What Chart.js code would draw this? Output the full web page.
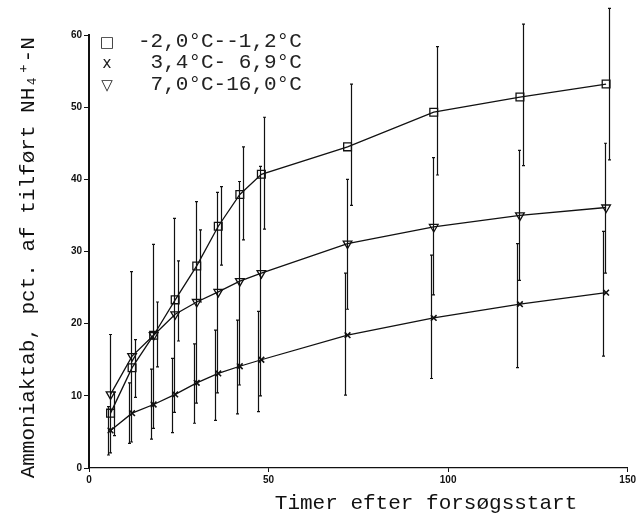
<!DOCTYPE html>
<html><head><meta charset="utf-8">
<script src="https://cdn.jsdelivr.net/npm/chart.js@4.4.0/dist/chart.umd.min.js"></script>
<style>
html,body{margin:0;padding:0;background:#fff;}
#wrap{position:relative;width:638px;height:520px;}
canvas{display:block;}
#legend{position:absolute;left:0;top:0;width:0;height:0;font-family:'Liberation Mono','DejaVu Sans Mono',monospace;font-size:21px;color:#222;}
.row{position:absolute;left:0;height:22px;line-height:22px;white-space:pre;}
.sym{position:absolute;left:97px;width:20px;text-align:center;font-family:'DejaVu Sans',sans-serif;font-size:15px;}
.txt{position:absolute;left:138px;}
</style></head>
<body><div id="wrap"><canvas id="c" width="638" height="520"></canvas><div id="legend"></div></div>
<script>
const hours = [6,12,18,24,30,36,42,48,72,96,120,144];
const seriesNames = ['-2,0°C--1,2°C',' 3,4°C- 6,9°C',' 7,0°C-16,0°C'];
const seriesSymbols = ['□','x','▽'];
const coldMean = [7.6,13.9,18.4,23.3,28.0,33.5,37.9,40.7,44.5,49.3,51.4,53.2];
const coldLow  = [4.5,9.8,14.0,17.6,23.0,28.1,31.6,33.1,36.4,40.6,41.9,42.7];
const coldHigh = [10.5,17.8,23.0,28.7,33.0,39.0,44.5,48.6,53.2,58.4,61.5,63.7];
const midMean  = [5.2,7.6,8.8,10.2,11.8,13.1,14.1,15.0,18.4,20.8,22.7,24.3];
const midLow   = [1.8,3.4,4.0,4.9,6.2,6.6,7.5,7.8,10.1,12.4,13.9,15.5];
const midHigh  = [8.5,11.8,13.7,15.2,17.2,19.1,20.5,21.7,27.0,29.5,31.1,32.8];
const warmMean = [10.2,15.5,18.4,21.3,23.0,24.4,25.9,27.0,31.1,33.4,35.0,36.1];
const warmLow  = [2.1,3.6,5.5,7.7,9.0,10.4,11.5,10.0,22.0,24.0,26.0,27.0];
const warmHigh = [18.5,27.2,31.0,34.6,36.9,38.2,39.7,41.8,40.0,43.0,44.0,45.0];
const xTicks = [0,50,100,150];
const yTicks = [0,10,20,30,40,50,60];

// HTML legend
const leg = document.getElementById('legend');
const rowTops = [31,52,74];
seriesNames.forEach((n,i)=>{
  const r = document.createElement('div');
  r.className='row'; r.style.top = rowTops[i]+'px';
  const s = document.createElement('span'); s.className='sym'; s.textContent = seriesSymbols[i];
  const t = document.createElement('span'); t.className='txt'; t.textContent = n;
  r.appendChild(s); r.appendChild(t); leg.appendChild(r);
});

const errorBars = {
  id:'errorBars',
  afterDatasetsDraw(chart, args, opts){
    const {ctx, scales:{x,y}} = chart;
    ctx.save();
    ctx.strokeStyle='#111';
    ctx.lineWidth=1.2;
    chart.data.datasets.forEach((ds,di)=>{
      const off = opts.offsets[di] || 0;
      ds.data.forEach((p,i)=>{
        const px = Math.round(x.getPixelForValue(p.x)+off)+0.5;
        const yl = y.getPixelForValue(ds.errLow[i]);
        const yh = y.getPixelForValue(ds.errHigh[i]);
        ctx.beginPath();
        ctx.moveTo(px,yl); ctx.lineTo(px,yh);
        ctx.moveTo(px-1.5,yl); ctx.lineTo(px+1.5,yl);
        ctx.moveTo(px-1.5,yh); ctx.lineTo(px+1.5,yh);
        ctx.stroke();
      });
    });
    ctx.restore();
  }
};

const titleFont = {family:"'Liberation Mono','DejaVu Sans Mono',monospace", size:21, weight:'normal'};
const tickFont = {family:"'Liberation Sans',Arial,sans-serif", size:10, weight:'bold'};

new Chart(document.getElementById('c'), {
  type:'line',
  data:{datasets:[
    {label:seriesNames[0], data:hours.map((h,i)=>({x:h,y:coldMean[i]})), errLow:coldLow, errHigh:coldHigh,
     pointStyle:'rect', pointRadius:5.5, pointBorderWidth:1.3, borderColor:'#111', pointBorderColor:'#111',
     backgroundColor:'rgba(0,0,0,0)', pointBackgroundColor:'rgba(0,0,0,0)', borderWidth:1.3, tension:0},
    {label:seriesNames[1], data:hours.map((h,i)=>({x:h,y:midMean[i]})), errLow:midLow, errHigh:midHigh,
     pointStyle:'crossRot', pointRadius:4, pointBorderWidth:1.6, borderColor:'#111', pointBorderColor:'#111',
     backgroundColor:'rgba(0,0,0,0)', borderWidth:1.3, tension:0},
    {label:seriesNames[2], data:hours.map((h,i)=>({x:h,y:warmMean[i]})), errLow:warmLow, errHigh:warmHigh,
     pointStyle:'triangle', pointRotation:180, pointRadius:5, pointBorderWidth:1.3, borderColor:'#111', pointBorderColor:'#111',
     backgroundColor:'rgba(0,0,0,0)', pointBackgroundColor:'rgba(0,0,0,0)', borderWidth:1.3, tension:0}
  ]},
  options:{
    responsive:false, animation:false, devicePixelRatio:1,
    layout:{padding:{top:35,right:0,bottom:0,left:0}},
    plugins:{legend:{display:false}, tooltip:{enabled:false}, errorBars:{offsets:[3,-3,-1]}},
    scales:{
      x:{type:'linear', min:0, max:150,
        afterBuildTicks(s){ s.ticks = xTicks.map(v=>({value:v})); },
        afterFit(s){ s.height = 52; },
        border:{display:true, color:'#111', width:1.2},
        grid:{display:true, drawOnChartArea:false, drawTicks:true, tickLength:4, color:'#111'},
        ticks:{font:tickFont, color:'#111', padding:2, maxRotation:0, autoSkip:false},
        title:{display:true, text:'Timer efter forsøgsstart    ', align:'end', font:titleFont, color:'#111', padding:{top:0,bottom:4}}
      },
      y:{type:'linear', min:0, max:60,
        afterBuildTicks(s){ s.ticks = yTicks.map(v=>({value:v})); },
        afterFit(s){ s.width = 89; },
        border:{display:true, color:'#111', width:2},
        grid:{display:true, drawOnChartArea:false, drawTicks:true, tickLength:5, color:'#111'},
        ticks:{font:tickFont, color:'#111', padding:2, autoSkip:false},
        title:{display:true, text:'Ammoniaktab, pct. af tilført NH₄⁺-N ', font:titleFont, color:'#111', padding:{top:16,bottom:0}}
      }
    }
  },
  plugins:[errorBars]
});
</script>
</body></html>
